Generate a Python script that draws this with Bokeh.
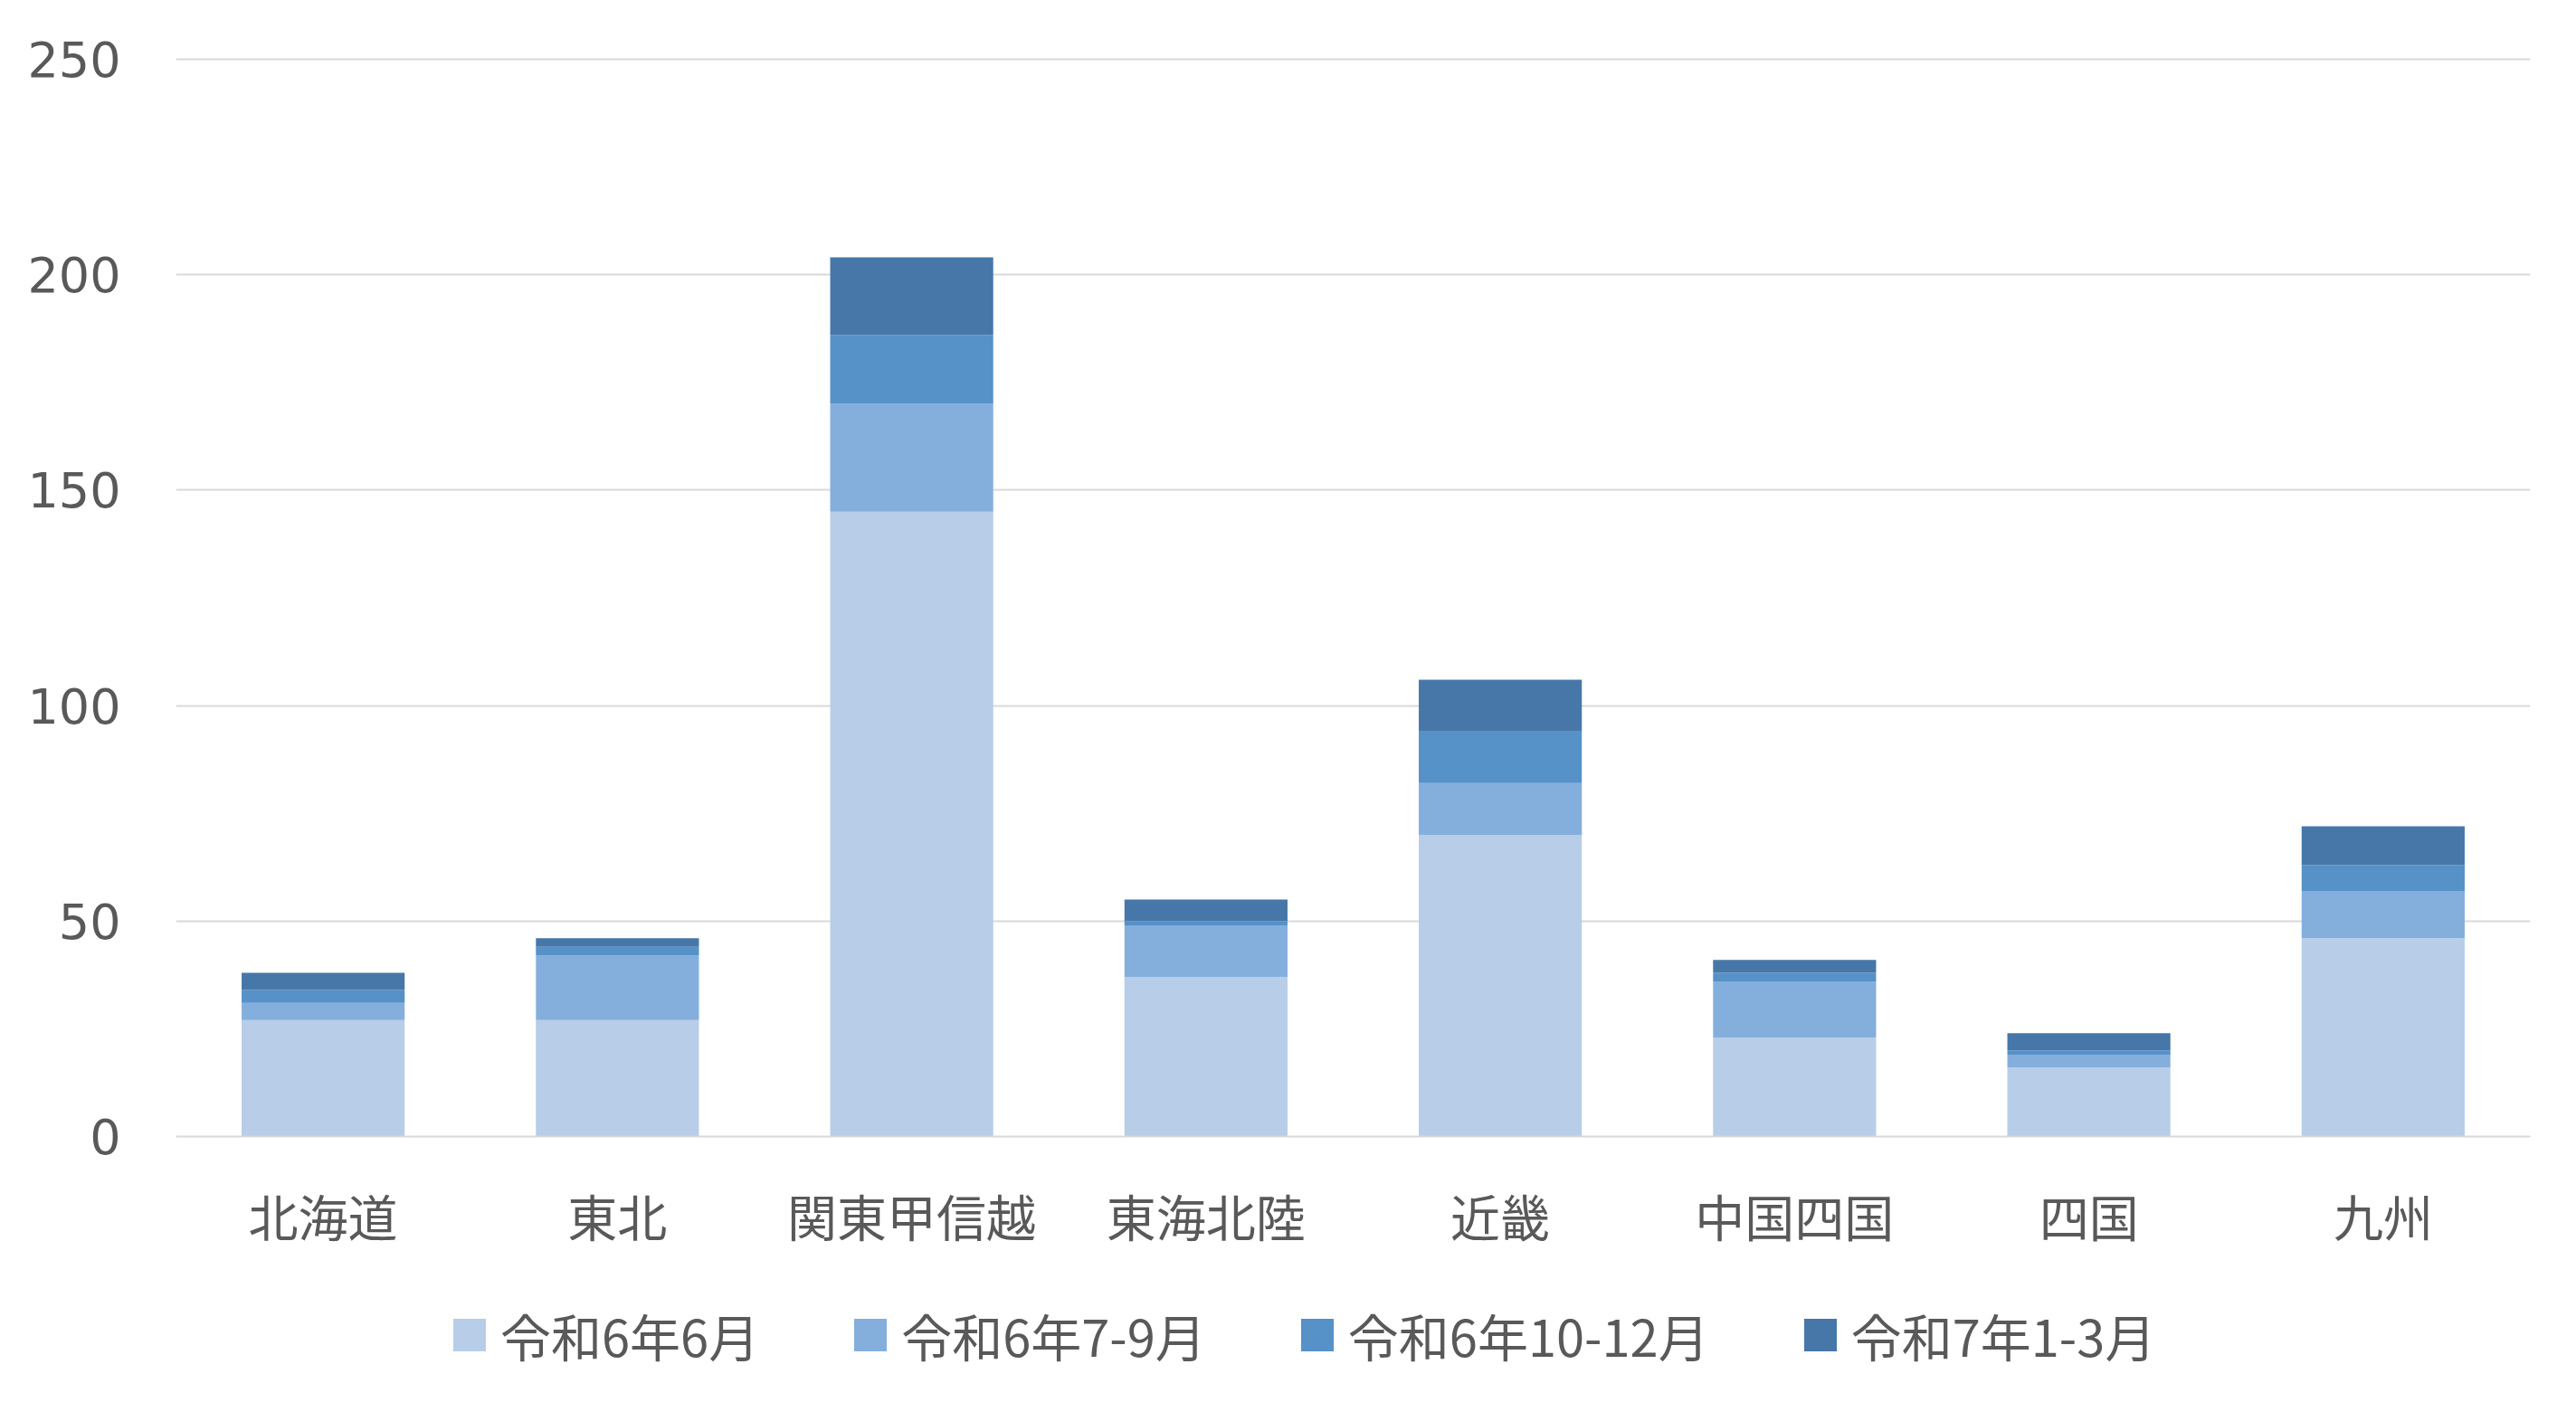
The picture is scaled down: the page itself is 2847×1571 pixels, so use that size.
from bokeh.plotting import figure
from bokeh.layouts import column
from bokeh.models import FactorRange, Legend, LegendItem, ColumnDataSource, FixedTicker
from bokeh.embed import file_html
from bokeh.resources import INLINE

# Regions and reporting periods
regions = ["北海道", "東北", "関東甲信越", "東海北陸", "近畿", "中国四国", "四国", "九州"]
periods = ["令和6年6月", "令和6年7-9月", "令和6年10-12月", "令和7年1-3月"]

# Counts per region for each period
r6_jun = [27, 27, 145, 37, 70, 23, 16, 46]
r6_jul_sep = [4, 15, 25, 12, 12, 13, 3, 11]
r6_oct_dec = [3, 2, 16, 1, 12, 2, 1, 6]
r7_jan_mar = [4, 2, 18, 5, 12, 3, 4, 9]

y_ticks = [0, 50, 100, 150, 200, 250]

colors = ["#b8cde8", "#84afdc", "#5691c8", "#4677a8"]
keys = ["p0", "p1", "p2", "p3"]

source = ColumnDataSource(data=dict(
    region=regions, p0=r6_jun, p1=r6_jul_sep, p2=r6_oct_dec, p3=r7_jan_mar,
))

TEXT = "#595959"
GRID = "#d9d9d9"
CJK = "Noto Sans CJK JP"

W, H = 2847, 1571
LEGEND_H = 168

p = figure(
    width=W, height=H - LEGEND_H,
    x_range=FactorRange(*regions),
    y_range=(0, 250.4),
    output_backend="svg", toolbar_location=None,
    min_border_left=194, min_border_right=51,
    min_border_top=63, min_border_bottom=147,
)
p.outline_line_color = None
p.background_fill_color = "white"
p.border_fill_color = "white"

p.vbar_stack(keys, x="region", width=0.554, color=colors,
             line_color=None, source=source)

# Axes
p.yaxis.ticker = FixedTicker(ticks=y_ticks)
p.yaxis.axis_line_color = None
p.yaxis.major_tick_line_color = None
p.yaxis.minor_tick_line_color = None
p.yaxis.major_label_standoff = 55
p.yaxis.major_label_text_font = "DejaVu Sans"
p.yaxis.major_label_text_font_size = "54px"
p.yaxis.major_label_text_color = TEXT

p.xaxis.axis_line_color = GRID
p.xaxis.axis_line_width = 2
p.xaxis.major_tick_line_color = None
p.xaxis.minor_tick_line_color = None
p.xaxis.major_label_standoff = 40
p.xaxis.major_label_text_font = CJK
p.xaxis.major_label_text_font_size = "55px"
p.xaxis.major_label_text_color = TEXT

p.xgrid.grid_line_color = None
p.ygrid.grid_line_color = GRID
p.ygrid.grid_line_width = 2

# Legend strip under the chart; its swatch renderers sit outside the visible range.
# The column layout aligns this strip's frame with the chart frame above.
lg = figure(
    width=W, height=LEGEND_H, x_range=(0, 1), y_range=(0, 1),
    output_backend="svg", toolbar_location=None,
    min_border=0, outline_line_color=None,
)
lg.axis.visible = False
lg.grid.visible = False
swatches = [
    lg.vbar(x=[-5], bottom=[-5], top=[-4], width=0.5, color=c, line_color=None)
    for c in colors
]
legend = Legend(
    items=[LegendItem(label=lab, renderers=[r]) for lab, r in zip(periods, swatches)],
    orientation="horizontal", location=(302, 55),
    label_text_font=CJK, label_text_font_size="56px", label_text_color=TEXT,
    glyph_width=45, glyph_height=45, label_standoff=12, spacing=100,
    border_line_color=None, background_fill_alpha=0, margin=0, padding=0,
)
lg.add_layout(legend)

layout = column(p, lg, spacing=0)
open("out.html", "w").write(file_html(layout, INLINE))
